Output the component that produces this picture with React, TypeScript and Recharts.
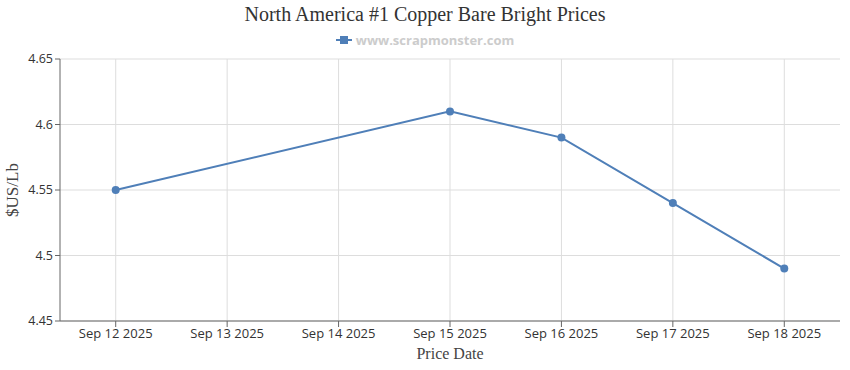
import { LineChart, Line, XAxis, YAxis, CartesianGrid, ReferenceLine } from 'recharts';

const DATES = ['Sep 12 2025', 'Sep 13 2025', 'Sep 14 2025', 'Sep 15 2025', 'Sep 16 2025', 'Sep 17 2025', 'Sep 18 2025'];
const PRICES: (number | null)[] = [4.55, null, null, 4.61, 4.59, 4.54, 4.49];
const Y_TICKS = [4.45, 4.5, 4.55, 4.6, 4.65];

const data = DATES.map((date, i) => ({ date, price: PRICES[i] }));

const LINE = '#4f7fb8';
const sans = '"Open Sans", "DejaVu Sans", sans-serif';
const serif = '"Liberation Serif", "DejaVu Serif", serif';

export default function App() {
  return (
    <div style={{ position: 'absolute', left: 0, top: 0, width: 850, height: 370, background: '#fff' }}>
      <div style={{ position: 'absolute', top: 3, left: 0, width: 850, textAlign: 'center', fontFamily: serif, fontSize: 20, color: '#333' }}>
        North America #1 Copper Bare Bright Prices
      </div>
      <div style={{ position: 'absolute', top: 31, left: 0, width: 850, display: 'flex', justifyContent: 'center', alignItems: 'center', fontFamily: sans, fontSize: 13, fontWeight: 700, color: '#cccccc' }}>
        <svg width={16} height={10} style={{ marginRight: 4 }}>
          <line x1={0} y1={5} x2={16} y2={5} stroke={LINE} strokeWidth={2} />
          <rect x={4} y={1} width={8} height={8} fill={LINE} />
        </svg>
        www.scrapmonster.com
      </div>
      <LineChart width={850} height={370} data={data} margin={{ top: 59, right: 10, bottom: 9, left: 0 }}>
        <CartesianGrid stroke="#dddddd" vertical={false} />
        {/* vertical grid at category centres only */}
        {DATES.map((d) => (
          <ReferenceLine key={d} x={d} stroke="#dddddd" />
        ))}
        <XAxis
          dataKey="date"
          scale="band"
          height={40}
          tick={{ fill: '#333', fontSize: 13, fontFamily: sans }}
          stroke="#666"
          tickSize={6}
          label={{ value: 'Price Date', position: 'insideBottom', offset: 2, fill: '#444', fontSize: 16, fontFamily: serif }}
        />
        <YAxis
          domain={[4.45, 4.65]}
          ticks={Y_TICKS}
          width={60}
          tick={{ fill: '#333', fontSize: 12.5, fontFamily: sans }}
          stroke="#666"
          tickSize={5}
          label={{ value: '$US/Lb', angle: -90, position: 'center', dx: -18, fill: '#444', fontSize: 17, fontFamily: serif }}
        />
        <Line
          dataKey="price"
          stroke={LINE}
          strokeWidth={2}
          connectNulls
          dot={{ r: 4, fill: LINE, stroke: LINE, strokeWidth: 0 }}
          isAnimationActive={false}
        />
      </LineChart>
    </div>
  );
}
